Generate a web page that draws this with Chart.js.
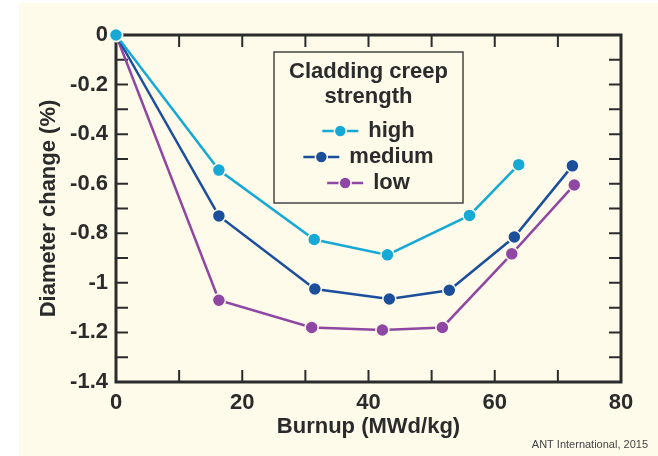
<!DOCTYPE html>
<html>
<head>
<meta charset="utf-8">
<script src="https://cdn.jsdelivr.net/npm/chart.js@4/dist/chart.umd.min.js"></script>
<style>
  html, body { margin: 0; padding: 0; background: #ffffff; }
  #chart { display: block; }
</style>
</head>
<body>
<canvas id="chart" width="658" height="456"></canvas>
<script>
// Data
const burnupHigh = [0, 16.3, 31.4, 43.0, 56.0, 63.8];
const diameterHigh = [0, -0.545, -0.825, -0.887, -0.728, -0.523];

const burnupMedium = [0, 16.3, 31.5, 43.3, 52.8, 63.1, 72.3];
const diameterMedium = [0, -0.73, -1.025, -1.065, -1.03, -0.815, -0.528];

const burnupLow = [0, 16.3, 31.0, 42.2, 51.7, 62.7, 72.6];
const diameterLow = [0, -1.07, -1.18, -1.19, -1.18, -0.883, -0.605];

const seriesNames = ['high', 'medium', 'low'];
const legendTitle = ['Cladding creep', 'strength'];
const xTitle = 'Burnup (MWd/kg)';
const yTitle = 'Diameter change (%)';
const creditText = 'ANT International, 2015';

// Colours
const COLORS = {
    high: '#17a9d6',
    medium: '#1b4f9c',
    low: '#8e47a3',
    cream: '#fefbeb',
    ink: '#2b2b2b'
};

const FONT = '"Liberation Sans", Arial, sans-serif';

function toPoints(xs, ys) {
    return xs.map(function (x, i) { return { x: x, y: ys[i] }; });
}

function series(label, xs, ys, color) {
    return {
        label: label,
        data: toPoints(xs, ys),
        borderColor: color,
        backgroundColor: color,
        borderWidth: 2.5,
        pointRadius: 6.5,
        pointBorderWidth: 1.5,
        pointBorderColor: COLORS.cream,
        pointBackgroundColor: color,
        showLine: true,
        tension: 0,
        clip: false
    };
}

// Cream backdrop behind everything
const backdrop = {
    id: 'backdrop',
    beforeDraw(chart) {
        const ctx = chart.ctx;
        ctx.save();
        ctx.fillStyle = '#ffffff';
        ctx.fillRect(0, 0, chart.width, chart.height);
        ctx.fillStyle = COLORS.cream;
        ctx.fillRect(19, 3, chart.width - 19, chart.height - 3);
        ctx.restore();
    }
};

// Box frame plus inward ticks on all four sides
const frame = {
    id: 'frame',
    beforeDatasetsDraw(chart) {
        const ctx = chart.ctx;
        const a = chart.chartArea;
        const xs = chart.scales.x;
        const ys = chart.scales.y;
        const len = 12;
        ctx.save();
        ctx.strokeStyle = COLORS.ink;
        ctx.lineWidth = 2;
        ctx.beginPath();
        for (let v = 10; v < 80; v += 10) {
            const px = xs.getPixelForValue(v);
            ctx.moveTo(px, a.bottom); ctx.lineTo(px, a.bottom - len);
            ctx.moveTo(px, a.top); ctx.lineTo(px, a.top + len);
        }
        for (let i = 1; i < 14; i++) {
            const py = ys.getPixelForValue(-i / 10);
            ctx.moveTo(a.left, py); ctx.lineTo(a.left + len, py);
            ctx.moveTo(a.right, py); ctx.lineTo(a.right - len, py);
        }
        ctx.stroke();
        ctx.lineWidth = 3;
        ctx.strokeRect(a.left, a.top, a.right - a.left, a.bottom - a.top);
        ctx.restore();
    }
};

// Boxed legend with a titled header and line-dot-line markers
const boxLegend = {
    id: 'boxLegend',
    afterDatasetsDraw(chart) {
        const ctx = chart.ctx;
        const a = chart.chartArea;
        const box = { x: a.left + 158, y: a.top + 17, w: 189, h: 151 };
        const cx = box.x + box.w / 2;
        ctx.save();
        ctx.fillStyle = COLORS.cream;
        ctx.fillRect(box.x, box.y, box.w, box.h);
        ctx.strokeStyle = '#444444';
        ctx.lineWidth = 1.5;
        ctx.strokeRect(box.x, box.y, box.w, box.h);

        ctx.fillStyle = COLORS.ink;
        ctx.font = 'bold 22px ' + FONT;
        ctx.textAlign = 'center';
        ctx.textBaseline = 'middle';
        ctx.fillText(legendTitle[0], cx, box.y + 20);
        ctx.fillText(legendTitle[1], cx, box.y + 45);

        ctx.textAlign = 'left';
        chart.data.datasets.forEach(function (ds, i) {
            const y = box.y + 79 + i * 26;
            const textW = ctx.measureText(ds.label).width;
            const markW = 36;
            const gap = 10;
            const x0 = cx - (markW + gap + textW) / 2;
            ctx.strokeStyle = ds.borderColor;
            ctx.lineWidth = 2.5;
            ctx.beginPath();
            ctx.moveTo(x0, y); ctx.lineTo(x0 + markW, y);
            ctx.stroke();
            ctx.fillStyle = ds.borderColor;
            ctx.beginPath();
            ctx.arc(x0 + markW / 2, y, 6, 0, Math.PI * 2);
            ctx.fill();
            ctx.strokeStyle = COLORS.cream;
            ctx.lineWidth = 1.5;
            ctx.stroke();
            ctx.fillStyle = COLORS.ink;
            ctx.fillText(ds.label, x0 + markW + gap, y);
        });
        ctx.restore();
    }
};

// Small credit line bottom right
const credit = {
    id: 'credit',
    afterDraw(chart) {
        const ctx = chart.ctx;
        ctx.save();
        ctx.fillStyle = '#444444';
        ctx.font = '11px ' + FONT;
        ctx.textAlign = 'right';
        ctx.textBaseline = 'middle';
        ctx.fillText(creditText, 648, 445);
        ctx.restore();
    }
};

const ctx = document.getElementById('chart').getContext('2d');
const myChart = new Chart(ctx, {
    type: 'scatter',
    data: {
        datasets: [
            series(seriesNames[0], burnupHigh, diameterHigh, COLORS.high),
            series(seriesNames[1], burnupMedium, diameterMedium, COLORS.medium),
            series(seriesNames[2], burnupLow, diameterLow, COLORS.low)
        ]
    },
    options: {
        responsive: false,
        devicePixelRatio: 1,
        animation: false,
        layout: { padding: { left: 19, top: 35, right: 37, bottom: 0 } },
        plugins: {
            legend: { display: false },
            tooltip: { enabled: false }
        },
        scales: {
            x: {
                type: 'linear',
                min: 0,
                max: 80,
                grid: { display: false, drawTicks: false },
                border: { display: false },
                ticks: {
                    stepSize: 20,
                    padding: 8,
                    color: COLORS.ink,
                    font: { family: FONT, size: 22, weight: 'bold' }
                },
                title: {
                    display: true,
                    text: xTitle,
                    color: COLORS.ink,
                    font: { family: FONT, size: 22, weight: 'bold' },
                    padding: { top: 0, bottom: 16 }
                },
                afterFit(scale) { scale.height = 74; }
            },
            y: {
                type: 'linear',
                min: -1.4,
                max: 0,
                grid: { display: false, drawTicks: false },
                border: { display: false },
                ticks: {
                    stepSize: 0.2,
                    padding: 8,
                    color: COLORS.ink,
                    font: { family: FONT, size: 22, weight: 'bold' },
                    callback: function (v) { return String(Math.round(v * 10) / 10); }
                },
                title: {
                    display: true,
                    text: yTitle,
                    color: COLORS.ink,
                    font: { family: FONT, size: 22, weight: 'bold' },
                    padding: { top: 17, bottom: 0 }
                },
                afterFit(scale) { scale.width = 97; }
            }
        }
    },
    plugins: [backdrop, frame, boxLegend, credit]
});
</script>
</body>
</html>
